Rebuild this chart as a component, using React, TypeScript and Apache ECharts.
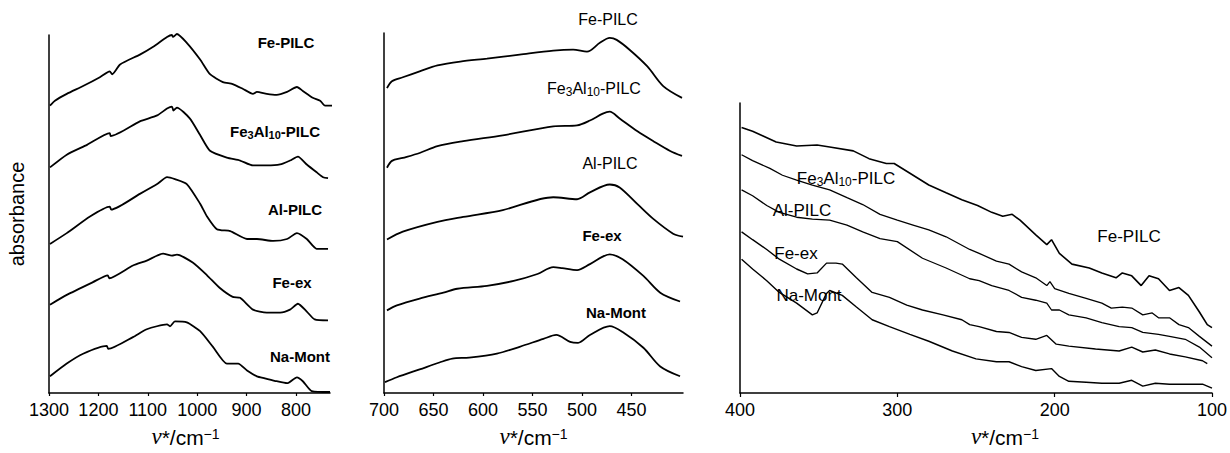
import React, { useEffect, useRef } from "react";
import * as echarts from "echarts";

const FONT = "'Liberation Sans', Arial, Helvetica, sans-serif";
const SERIF = "'Liberation Serif', 'Times New Roman', serif";

// ---------- Panel 1: 1300–730 cm-1 (wavenumber, offset absorbance) ----------
const p1Ticks = [1300, 1200, 1100, 1000, 900, 800];
const p1FePILC = [[1298,293],[1288,298],[1264,305],[1231,313],[1197,322],[1177,328],[1172,325],[1156,335],[1116,345],[1089,353],[1061,363],[1051,365],[1049,363],[1041,366],[1021,357],[994,340],[974,325],[948,317],[928,315],[907,310],[887,305],[879,307],[859,305],[839,304],[818,307],[798,312],[786,308],[766,301],[751,298],[741,293],[717,293]];
const p1Fe3Al10 = [[1298,230],[1264,243],[1223,253],[1177,265],[1175,262],[1116,277],[1081,283],[1061,290],[1051,292],[1048,288],[1041,291],[1015,280],[994,263],[974,247],[940,240],[913,237],[887,232],[859,232],[832,233],[812,237],[796,241],[778,233],[758,225],[745,220],[735,219]];
const p1AlPILC = [[1298,152],[1264,163],[1217,180],[1177,190],[1174,187],[1116,203],[1081,213],[1061,220],[1045,218],[1021,213],[994,193],[980,180],[960,167],[933,165],[899,157],[879,157],[846,155],[818,157],[798,163],[778,157],[758,147],[735,147]];
const p1FeEx = [[1298,90],[1264,100],[1211,113],[1181,120],[1178,117],[1130,130],[1102,135],[1069,142],[1051,140],[1041,141],[1009,133],[980,120],[954,107],[928,98],[913,97],[887,85],[859,82],[832,82],[812,85],[796,91],[778,83],[762,75],[735,74]];
const p1NaMont = [[1298,17],[1264,30],[1231,40],[1183,48],[1180,45],[1130,57],[1102,65],[1061,70],[1055,68],[1045,73],[1021,72],[994,63],[968,47],[940,30],[917,30],[899,23],[879,17],[863,15],[839,12],[818,10],[798,16],[786,12],[768,2],[731,1]];

// ---------- Panel 2: 700–400 cm-1 ----------
const p2Ticks = [700, 650, 600, 550, 500, 450];
const p2FePILC = [[697,310],[692,317],[681,321],[664,327],[646,333],[623,337],[596,340],[563,344],[529,348],[509,349],[495,347],[482,356],[472,361],[465,359],[452,349],[434,332],[418,312],[399,300]];
const p2Fe3Al10 = [[697,229],[692,236],[681,239],[664,244],[646,251],[620,256],[580,262],[529,271],[505,272],[492,277],[479,284],[472,286],[462,279],[444,266],[428,256],[411,246],[399,241]];
const p2AlPILC = [[697,156],[681,164],[646,174],[620,179],[580,186],[529,199],[505,197],[492,204],[472,212],[462,209],[444,192],[428,177],[408,162],[398,159]];
const p2FeEx = [[697,84],[687,89],[664,96],[640,102],[626,106],[596,109],[569,114],[545,121],[529,128],[520,127],[505,125],[492,131],[472,141],[459,136],[438,119],[421,102],[401,93]];
const p2NaMont = [[699,11],[687,16],[664,24],[644,31],[631,35],[614,36],[586,40],[563,47],[539,55],[526,59],[512,52],[504,51],[492,59],[472,68],[459,62],[438,46],[421,27],[401,17]];

// ---------- Panel 3: 400–100 cm-1 ----------
const p3FePILC = [[399,272],[392,268],[385,263],[377,257],[364,253],[351,254],[343,252],[328,248],[318,240],[307,235],[302,235],[292,225],[280,213],[269,205],[259,198],[249,192],[240,185],[233,181],[227,183],[222,177],[212,162],[205,152],[202,157],[197,143],[189,132],[178,128],[170,123],[161,118],[157,123],[151,120],[145,110],[140,120],[134,117],[127,105],[121,108],[115,100],[108,83],[103,70],[100,67]];
const p3Fe3Al10 = [[399,244],[392,238],[381,230],[373,223],[364,218],[354,213],[343,208],[332,200],[322,193],[311,183],[300,177],[290,172],[280,167],[269,160],[254,147],[248,143],[237,135],[229,132],[221,124],[212,118],[205,110],[203,114],[200,107],[191,102],[180,97],[170,92],[164,87],[157,88],[151,87],[144,80],[138,82],[134,77],[127,77],[121,70],[115,67],[108,58],[100,48]];
const p3AlPILC = [[399,208],[392,202],[383,192],[375,185],[364,180],[354,178],[343,177],[332,172],[322,165],[311,158],[300,155],[284,138],[269,128],[254,117],[248,115],[240,110],[229,105],[221,98],[212,95],[205,92],[202,85],[197,85],[191,80],[180,77],[170,72],[159,68],[151,67],[144,62],[134,60],[127,58],[117,55],[108,47],[100,36]];
const p3FeEx = [[399,165],[392,157],[383,147],[375,137],[364,127],[357,122],[351,123],[345,133],[339,133],[335,132],[326,118],[316,103],[305,98],[294,90],[284,85],[271,80],[259,75],[254,70],[248,68],[237,63],[229,62],[221,57],[212,55],[205,59],[199,50],[191,48],[174,45],[159,43],[151,47],[144,42],[136,44],[127,40],[117,37],[106,33],[103,30]];
const p3NaMont = [[399,137],[392,127],[383,115],[375,103],[364,92],[354,80],[351,82],[345,102],[343,105],[335,100],[326,88],[316,75],[305,68],[292,60],[280,53],[265,43],[250,35],[237,32],[229,32],[221,27],[212,23],[202,25],[197,17],[191,12],[180,11],[170,10],[159,10],[151,13],[144,7],[136,10],[127,9],[106,9],[100,5]];

const axisNameText = "{i|ν}{n|*/cm}{p|−1}";
const axisNameRich = {
  i: { fontStyle: "italic", fontSize: 23, fontFamily: SERIF, color: "#000", lineHeight: 21, padding: [1, 0, 0, 0], verticalAlign: "bottom" },
  n: { fontSize: 21, fontFamily: FONT, color: "#000", lineHeight: 21, padding: [1, 0, 0, 0], verticalAlign: "bottom" },
  p: { fontSize: 14, fontFamily: FONT, color: "#000", lineHeight: 14, verticalAlign: "top" },
};

const axisLine = { show: true, onZero: false, lineStyle: { color: "#000", width: 1.5 } };
const tickStyle = { show: true, length: 3, lineStyle: { color: "#000", width: 1.2 } };
const labelBase = { fontSize: 18, color: "#000", fontFamily: FONT, margin: 8, formatter: (v: number) => String(v) };

function xAxisDef(grid: number, min: number, max: number, extra: any, namePad: number[]) {
  return {
    gridIndex: grid,
    type: "value",
    inverse: true,
    min,
    max,
    axisLine,
    splitLine: { show: false },
    axisTick: tickStyle,
    axisLabel: labelBase,
    name: axisNameText,
    nameLocation: "middle",
    nameGap: 34,
    nameTextStyle: { rich: axisNameRich, padding: namePad },
    ...extra,
  };
}

function yAxisDef(grid: number, max: number, extra: any = {}) {
  return {
    gridIndex: grid,
    type: "value",
    min: 0,
    max,
    axisLine,
    splitLine: { show: false },
    axisTick: { show: false },
    axisLabel: { show: false },
    ...extra,
  };
}

function lineSeries(data: number[][], grid: number, width: number, smooth: number | boolean) {
  return {
    type: "line",
    data,
    xAxisIndex: grid,
    yAxisIndex: grid,
    showSymbol: false,
    symbol: "none",
    smooth,
    clip: false,
    silent: true,
    lineStyle: { color: "#000", width },
  };
}

function label(x: number, y: number, text: string, size: number, bold: boolean) {
  return {
    type: "text",
    x,
    y,
    style: {
      text,
      fill: "#000",
      fontSize: size,
      fontWeight: bold ? "bold" : "normal",
      fontFamily: FONT,
      align: "center",
      verticalAlign: "middle",
    },
  };
}

function subLabel(x: number, y: number, size: number, bold: boolean) {
  const w = bold ? "bold" : "normal";
  const sub = Math.round(size * 0.72);
  return {
    type: "text",
    x,
    y,
    style: {
      text: "{a|Fe}{s|3}{a|Al}{s|10}{a|-PILC}",
      align: "center",
      verticalAlign: "middle",
      rich: {
        a: { fontSize: size, fontWeight: w, fontFamily: FONT, fill: "#000", color: "#000", lineHeight: size + 1, verticalAlign: "top" },
        s: { fontSize: sub, fontWeight: w, fontFamily: FONT, fill: "#000", color: "#000", lineHeight: sub, padding: [Math.round(size * 0.55), 0, 0, 0], verticalAlign: "bottom" },
      },
    },
  };
}

export default function App() {
  const ref = useRef<HTMLDivElement>(null);

  useEffect(() => {
    const chart = echarts.init(ref.current!, null, { renderer: "svg" });
    const option: any = {
      animation: false,
      backgroundColor: "#fff",
      grid: [
        { left: 49, top: 35, width: 281, height: 365 },
        { left: 384, top: 33, width: 299, height: 366 },
        { left: 740, top: 103, width: 473, height: 297 },
      ],
      xAxis: [
        xAxisDef(0, 731, 1300, {
          axisLabel: { ...labelBase, customValues: p1Ticks },
          axisTick: { ...tickStyle, customValues: p1Ticks },
        }, [0, 8, 0, 0]),
        xAxisDef(1, 398, 700, {
          axisLabel: { ...labelBase, customValues: p2Ticks },
          axisTick: { ...tickStyle, customValues: p2Ticks },
        }, [0, 0, 0, 0]),
        xAxisDef(2, 100, 400, { interval: 100, axisTick: { ...tickStyle, length: 4 } }, [0, 0, 0, 58]),
      ],
      yAxis: [
        yAxisDef(0, 365, {
          name: "absorbance",
          nameLocation: "middle",
          nameGap: 22,
          nameTextStyle: { fontSize: 20, color: "#000", fontFamily: FONT },
        }),
        yAxisDef(1, 366),
        yAxisDef(2, 297),
      ],
      series: [
        lineSeries(p1FePILC, 0, 1.8, 0.2),
        lineSeries(p1Fe3Al10, 0, 1.8, 0.2),
        lineSeries(p1AlPILC, 0, 1.8, 0.2),
        lineSeries(p1FeEx, 0, 1.8, 0.2),
        lineSeries(p1NaMont, 0, 1.8, 0.2),
        lineSeries(p2FePILC, 1, 1.8, 0.3),
        lineSeries(p2Fe3Al10, 1, 1.8, 0.3),
        lineSeries(p2AlPILC, 1, 1.8, 0.3),
        lineSeries(p2FeEx, 1, 1.8, 0.3),
        lineSeries(p2NaMont, 1, 1.8, 0.3),
        lineSeries(p3FePILC, 2, 1.6, false),
        lineSeries(p3Fe3Al10, 2, 1.3, false),
        lineSeries(p3AlPILC, 2, 1.3, false),
        lineSeries(p3FeEx, 2, 1.4, false),
        lineSeries(p3NaMont, 2, 1.4, false),
      ],
      graphic: [
        label(286, 42, "Fe-PILC", 15, true),
        subLabel(275, 132, 15, true),
        label(295, 209, "Al-PILC", 15, true),
        label(292, 282, "Fe-ex", 15, true),
        label(300, 356, "Na-Mont", 15, true),
        label(608, 19, "Fe-PILC", 16, false),
        subLabel(594, 89, 16, false),
        label(610, 163, "Al-PILC", 16, false),
        label(602, 235, "Fe-ex", 15, true),
        label(616, 312, "Na-Mont", 15, true),
        subLabel(846, 179, 17, false),
        label(802, 210, "Al-PILC", 17, false),
        label(796, 253, "Fe-ex", 17, false),
        label(809, 295, "Na-Mont", 17, false),
        label(1129, 236, "Fe-PILC", 17, false),
      ],
    };
    chart.setOption(option);
    return () => chart.dispose();
  }, []);

  return (
    <div
      ref={ref}
      style={{ position: "fixed", left: 0, top: 0, width: 1230, height: 453, background: "#fff" }}
    />
  );
}
